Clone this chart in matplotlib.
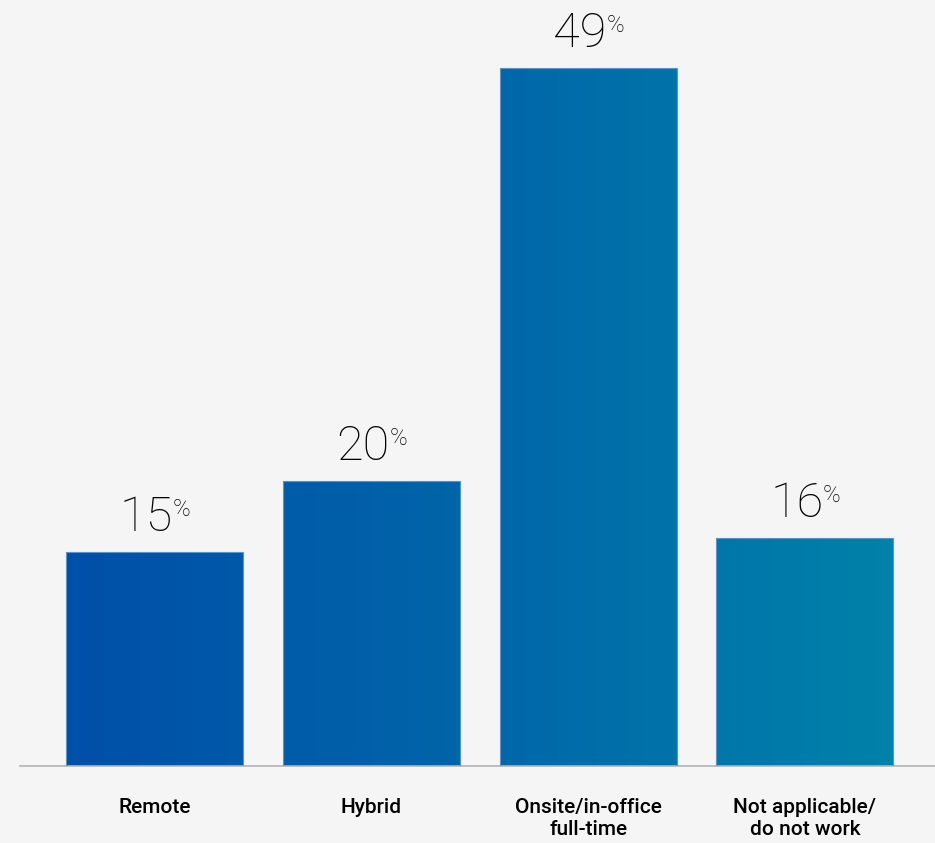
import numpy as np
import matplotlib
matplotlib.use("Agg")
import matplotlib.pyplot as plt
from matplotlib.colors import LinearSegmentedColormap

categories = ["Remote", "Hybrid", "Onsite/in-office\nfull-time", "Not applicable/\ndo not work"]
values = [15, 20, 49, 16]

bg = "#f5f5f5"
fig = plt.figure(figsize=(9.35, 8.43), dpi=100, facecolor=bg)
ax = fig.add_axes([20 / 935, 77 / 843, 915 / 935, 766 / 843])
ax.set_facecolor(bg)

x = np.arange(len(values))
width = 0.816
bars = ax.bar(x, values, width=width, color="none", edgecolor="#5b93cc", linewidth=0.8, zorder=3)

xmin, xmax = -0.62, 3.6
ymax = 766 / 14.25
ax.set_xlim(xmin, xmax)
ax.set_ylim(0, ymax)

# Horizontal gradient running across all bars
cmap = LinearSegmentedColormap.from_list("blues", ["#004fa8", "#0066a9", "#0082aa"])
x0 = x[0] - width / 2
x1 = x[-1] + width / 2
grad = np.linspace(0, 1, 512).reshape(1, -1)
for b in bars:
    img = ax.imshow(grad, cmap=cmap, aspect="auto", extent=(x0, x1, 0, ymax),
                    interpolation="bilinear", zorder=2)
    img.set_clip_path(b)
ax.set_xlim(xmin, xmax)
ax.set_ylim(0, ymax)

for s in ["top", "right", "left"]:
    ax.spines[s].set_visible(False)
ax.spines["bottom"].set_color("#b4b4b4")
ax.spines["bottom"].set_linewidth(1.2)
ax.set_yticks([])
ax.set_xticks(x)
ax.set_xticklabels(categories, fontfamily="Roboto", fontweight="medium", fontsize=15,
                   color="#000000", linespacing=1.2, va="top")
ax.tick_params(axis="x", length=0, pad=23)

for xi, v in zip(x, values):
    ax.annotate(f"{v}", xy=(xi, v), xytext=(-8, 21), textcoords="offset pixels",
                ha="center", va="baseline", fontfamily="Roboto", fontweight="light",
                fontsize=35, color="#000000")
    ax.annotate("%", xy=(xi, v), xytext=(27, 36), textcoords="offset pixels",
                ha="center", va="baseline", fontfamily="Roboto", fontweight="light",
                fontsize=17, color="#000000")

fig.savefig("out.png", dpi=100, facecolor=bg)
